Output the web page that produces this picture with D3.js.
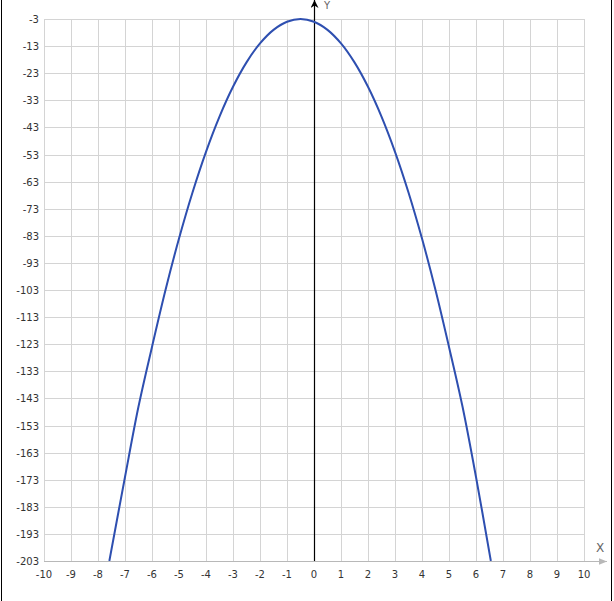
<!DOCTYPE html>
<html><head><meta charset="utf-8">
<script src="https://cdn.jsdelivr.net/npm/d3@7"></script>
<style>
html,body{margin:0;padding:0;background:#fff;}
svg{display:block;}
text{font-family:"DejaVu Sans",Verdana,sans-serif;font-size:10px;fill:#333;}
</style></head>
<body>
<svg id="c" width="614" height="601"></svg>
<script>
const xTicks = [-10,-9,-8,-7,-6,-5,-4,-3,-2,-1,0,1,2,3,4,5,6,7,8,9,10];
const yTicks = [-3,-13,-23,-33,-43,-53,-63,-73,-83,-93,-103,-113,-123,-133,-143,-153,-163,-173,-183,-193,-203];
const curveX = [-7.58,-7,-6.5,-6,-5.5,-5,-4.5,-4,-3.5,-3,-2.5,-2,-1.5,-1,-0.5,0,0.5,1,1.5,2,2.5,3,3.5,4,4.5,5,5.5,6,6.55];
const curveY = [-203,-172,-146,-124,-103,-84,-67,-52,-39,-28,-19,-12,-7,-4,-3,-4,-7,-12,-19,-28,-39,-52,-67,-84,-103,-124,-146,-172,-203];

const svg = d3.select("#c");
const x = d3.scaleLinear().domain([-10,10]).range([44,584]);
const y = d3.scaleLinear().domain([-203,-3]).range([561,19]);

// frame borders (left/right)
svg.append("line").attr("x1",1.5).attr("x2",1.5).attr("y1",0).attr("y2",601).attr("stroke","#000").attr("stroke-width",1);
svg.append("line").attr("x1",611.5).attr("x2",611.5).attr("y1",0).attr("y2",601).attr("stroke","#000").attr("stroke-width",1);

const grid = svg.append("g").attr("stroke","#d4d4d4").attr("stroke-width",1).attr("shape-rendering","crispEdges");
xTicks.forEach(t=>{
  grid.append("line").attr("x1",Math.round(x(t))+0.5).attr("x2",Math.round(x(t))+0.5).attr("y1",y(-3)).attr("y2",y(-203));
});
yTicks.forEach(t=>{
  grid.append("line").attr("x1",x(-10)).attr("x2",x(10)).attr("y1",Math.round(y(t))+0.5).attr("y2",Math.round(y(t))+0.5);
});

// y tick labels
svg.append("g").selectAll("text").data(yTicks).join("text")
  .attr("x",39).attr("y",d=>y(d)+4).attr("text-anchor","end").text(d=>d);
// x tick labels
svg.append("g").selectAll("text").data(xTicks).join("text")
  .attr("x",d=>x(d)).attr("y",578).attr("text-anchor","middle").text(d=>d);

// x axis (gray) with arrow
const defs = svg.append("defs");
defs.append("marker").attr("id","ag").attr("viewBox","0 0 10 10").attr("refX",10).attr("refY",5)
  .attr("markerWidth",10).attr("markerHeight",8).attr("markerUnits","userSpaceOnUse").attr("orient","auto")
  .append("path").attr("d","M0,1 L10,5 L0,9 Z").attr("fill","#b8b8b8");
defs.append("marker").attr("id","ab").attr("viewBox","0 0 10 10").attr("refX",10).attr("refY",5)
  .attr("markerWidth",12).attr("markerHeight",8).attr("markerUnits","userSpaceOnUse").attr("orient","auto")
  .append("path").attr("d","M0,0 L10,5 L0,10 L3,5 Z").attr("fill","#000");

svg.append("line").attr("x1",x(-10)).attr("x2",607).attr("y1",561.5).attr("y2",561.5)
  .attr("stroke","#b8b8b8").attr("stroke-width",1).attr("marker-end","url(#ag)");
svg.append("text").attr("x",600).attr("y",552).attr("text-anchor","middle").style("font-size","12px").style("fill","#666").text("X");

// y axis (black) with arrow
svg.append("line").attr("x1",x(0)+0.5).attr("x2",x(0)+0.5).attr("y1",561).attr("y2",0)
  .attr("stroke","#000").attr("stroke-width",1.2).attr("marker-end","url(#ab)");
svg.append("text").attr("x",327).attr("y",9).attr("text-anchor","middle").style("font-size","10px").style("fill","#666").text("Y");

// curve
defs.append("clipPath").attr("id","clip").append("rect").attr("x",x(-10)).attr("y",0).attr("width",x(10)-x(-10)).attr("height",y(-203)-0);
const pts = curveX.map((v,i)=>[v,curveY[i]]);
svg.append("path").datum(pts).attr("clip-path","url(#clip)")
  .attr("fill","none").attr("stroke","#2e4fb0").attr("stroke-width",2)
  .attr("d", d3.line().x(d=>x(d[0])).y(d=>y(d[1])).curve(d3.curveCatmullRom.alpha(0.5)));
</script>
</body></html>
